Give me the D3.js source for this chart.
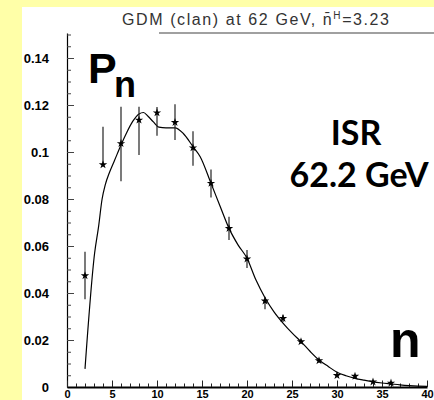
<!DOCTYPE html>
<html>
<head>
<meta charset="utf-8">
<script src="https://cdn.jsdelivr.net/npm/d3@7"></script>
<style>
  html, body { margin: 0; padding: 0; background: #ffffa8; }
  svg { display: block; }
</style>
</head>
<body>
<svg id="chart" width="434" height="400"></svg>
<script>
// Multiplicity distribution P_n at 62.2 GeV (ISR) with the GDM (clan) fit curve.
const nValues  = [2, 4, 6, 8, 10, 12, 14, 16, 18, 20, 22, 24, 26, 28, 30, 32, 34, 36];
const pnValues = [0.0474, 0.0946, 0.1036, 0.1136, 0.1167, 0.1126, 0.1018, 0.0867, 0.0675,
                  0.0545, 0.0366, 0.0292, 0.0193, 0.0112, 0.0049, 0.0046, 0.0022, 0.0017];
const errHigh  = [0.0576, 0.1107, 0.1193, 0.1193, 0.1191, 0.1203, 0.1088, 0.0926, 0.0725,
                  0.0583, 0.0384, 0.0307, 0.0203, 0.0121, 0.0055, 0.0051, 0.0026, 0.0020];
const errLow   = [0.0373, 0.0946, 0.0876, 0.0987, 0.1069, 0.1051, 0.0942, 0.0806, 0.0626,
                  0.0506, 0.0331, 0.0277, 0.0183, 0.0103, 0.0043, 0.0041, 0.0018, 0.0014];

// GDM fit curve, sampled along n
const fitN  = [2.0, 3.07, 3.5, 3.9, 4.25, 4.75, 5.3, 6.0, 6.6, 7.3, 8.0, 8.5, 9.0, 9.6, 10.2,
               11.0, 12.0, 12.9, 14.0, 14.8, 16, 17, 18, 19, 20, 21, 22, 23, 24, 25, 26, 27,
               28, 29, 30, 31, 32, 33, 34, 35, 36, 37, 38, 39, 40];
const fitPn = [0.0077, 0.057, 0.068, 0.080, 0.086, 0.0916, 0.0966, 0.103, 0.108, 0.113, 0.1162,
               0.1168, 0.1152, 0.1128, 0.1106, 0.1103, 0.1103, 0.108, 0.1023, 0.098, 0.0867,
               0.0770, 0.0675, 0.0605, 0.0548, 0.0455, 0.0380, 0.0320, 0.0272, 0.0230, 0.0193,
               0.0152, 0.0115, 0.0088, 0.0063, 0.0048, 0.0037, 0.0029, 0.0022, 0.0017, 0.0013,
               0.0009, 0.0006, 0.0004, 0.0003];

const xTickLabels = [0, 5, 10, 15, 20, 25, 30, 35, 40];
const yTickLabels = ["0", "0.02", "0.04", "0.06", "0.08", "0.1", "0.12", "0.14"];

const svg = d3.select("#chart");

// white panel
svg.append("rect").attr("x", 22).attr("y", 7).attr("width", 412).attr("height", 393)
  .attr("fill", "#ffffff");

const x = d3.scaleLinear().domain([0, 40]).range([67, 427]);
const y = d3.scaleLinear().domain([0, 0.14]).range([387, 58]);
const yTop = y.invert(33);

// title and its rule
svg.append("line").attr("x1", 159).attr("x2", 434).attr("y1", 33).attr("y2", 33)
  .attr("stroke", "#808080").attr("stroke-width", 1.6);
const title = svg.append("text").attr("x", 122).attr("y", 25)
  .attr("font-family", "'Liberation Sans', Arial, sans-serif").attr("font-size", 16)
  .attr("fill", "#333").attr("textLength", 267).attr("lengthAdjust", "spacing");
title.append("tspan").text("GDM (clan) at 62 GeV,  n\u0304");
title.append("tspan").attr("font-size", 10).attr("dy", -6).text("H");
title.append("tspan").attr("dy", 6).text("=3.23");

// y axis: major ticks with labels, minor ticks every 0.005
const yMinor = d3.range(0, 0.1501, 0.005);
svg.append("g").attr("transform", "translate(67,0)")
  .call(d3.axisLeft(y.copy().domain([0, yTop]).range([387, 33]))
    .tickValues(yMinor).tickSizeInner(-4).tickSizeOuter(0).tickFormat(""))
  .call(g => g.select(".domain").attr("stroke", "#000").attr("stroke-width", 1.2))
  .call(g => g.selectAll(".tick line").attr("stroke", "#444"));
svg.append("g").attr("transform", "translate(67,0)")
  .call(d3.axisLeft(y).tickValues(yTickLabels.map(Number)).tickSizeInner(-7).tickSizeOuter(0)
    .tickPadding(18).tickFormat((d, i) => yTickLabels[i]))
  .call(g => g.select(".domain").remove())
  .call(g => g.selectAll(".tick line").attr("stroke", "#444"))
  .call(g => g.selectAll("text").attr("font-family", "'Liberation Sans', Arial, sans-serif")
    .attr("font-size", 13).attr("font-weight", "bold").attr("fill", "#000"));

// x axis: major ticks every 5, minor every 1
svg.append("g").attr("transform", "translate(0,387)")
  .call(d3.axisBottom(x).tickValues(d3.range(0, 41, 1)).tickSizeInner(-3.5).tickSizeOuter(0)
    .tickFormat(""))
  .call(g => g.select(".domain").attr("stroke", "#000").attr("stroke-width", 2))
  .call(g => g.selectAll(".tick line").attr("stroke", "#222"));
svg.append("g").attr("transform", "translate(0,387)")
  .call(d3.axisBottom(x).tickValues(xTickLabels).tickSizeInner(-6.5).tickSizeOuter(0)
    .tickPadding(3).tickFormat(d => String(d)))
  .call(g => g.select(".domain").remove())
  .call(g => g.selectAll(".tick line").attr("stroke", "#222"))
  .call(g => g.selectAll("text").attr("font-family", "'Liberation Sans', Arial, sans-serif")
    .attr("font-size", 11).attr("font-weight", "bold").attr("fill", "#000"));

// fit curve
const line = d3.line().x((d, i) => x(fitN[i])).y(d => y(d)).curve(d3.curveMonotoneX);
svg.append("path").attr("d", line(fitPn)).attr("fill", "none")
  .attr("stroke", "#000").attr("stroke-width", 1.2);

// error bars
svg.append("g").selectAll("line").data(nValues).join("line")
  .attr("x1", d => x(d)).attr("x2", d => x(d))
  .attr("y1", (d, i) => y(errHigh[i])).attr("y2", (d, i) => y(errLow[i]))
  .attr("stroke", "#222").attr("stroke-width", 1.2);

// data points as stars
const star = d3.symbol().type(d3.symbolStar).size(22);
svg.append("g").selectAll("path").data(nValues).join("path")
  .attr("transform", (d, i) => `translate(${x(d)},${y(pnValues[i])})`)
  .attr("d", star).attr("fill", "#000");

// annotations
const big = "'Liberation Sans', Arial, sans-serif";
svg.append("text").attr("x", 88).attr("y", 83).attr("font-family", big)
  .attr("font-weight", "bold").attr("font-size", 43).attr("fill", "#000").text("P");
svg.append("text").attr("x", 114).attr("y", 97).attr("font-family", big)
  .attr("font-weight", "bold").attr("font-size", 36).attr("fill", "#000").text("n");
svg.append("text").attr("x", 390).attr("y", 357).attr("font-family", big)
  .attr("font-weight", "bold").attr("font-size", 50).attr("fill", "#000").text("n");

const isr = svg.append("g").attr("font-family", "Lato, 'Open Sans', sans-serif")
  .attr("font-weight", "bold").attr("font-size", 34).attr("fill", "#000")
  .attr("text-anchor", "middle");
isr.append("text").attr("x", 356).attr("y", 145).text("ISR");
isr.append("text").attr("x", 359).attr("y", 187).text("62.2 GeV");
</script>
</body>
</html>
